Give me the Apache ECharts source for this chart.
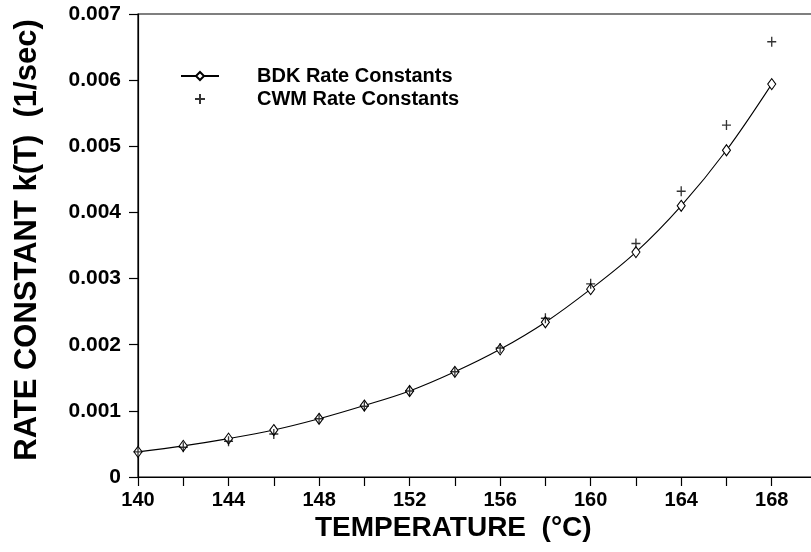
<!DOCTYPE html>
<html>
<head>
<meta charset="utf-8">
<script src="https://cdn.jsdelivr.net/npm/echarts@6/dist/echarts.min.js"></script>
<style>
html,body{margin:0;padding:0;background:#fff;}
#chart{width:811px;height:552px;}
</style>
</head>
<body>
<div id="chart"></div>
<script>
const temperatures = [140,142,144,146,148,150,152,154,156,158,160,162,164,166,168];
const bdkRates = [0.00038,0.00047,0.00058,0.00071,0.00088,0.00108,0.00130,0.00159,0.00193,0.00234,0.00284,0.00340,0.00410,0.00494,0.00594];
const cwmRates = [0.00038,0.00045,0.00054,0.00065,0.00088,0.00107,0.00130,0.00159,0.00195,0.00240,0.00292,0.00353,0.00432,0.00532,0.00658];
const seriesNames = ['BDK Rate Constants','CWM Rate Constants'];
const xTitle = 'TEMPERATURE  (\u00B0C)';
const yTitle = 'RATE CONSTANT k(T)  (1/sec)';

const font = '"Liberation Sans", Arial, Helvetica, sans-serif';
const chart = echarts.init(document.getElementById('chart'), null, {renderer:'canvas'});
const pairs = (xs, ys) => xs.map((x,i)=>[x, ys[i]]);

chart.setOption({
  animation:false,
  backgroundColor:'#fff',
  grid:{left:138, width:679, top:14, height:463, outerBoundsMode:'none', containLabel:false,
    show:true, borderColor:'#000', borderWidth:1.2, backgroundColor:'transparent'},
  legend:{
    orient:'vertical', left:175, top:61, itemGap:3, itemWidth:38, itemHeight:10,
    data:[{name:seriesNames[0]},{name:seriesNames[1]}],
    textStyle:{fontFamily:font, fontSize:20, fontWeight:'bold', color:'#000', padding:[0,0,0,33]},
    selectedMode:false
  },
  xAxis:{
    type:'value', min:140, max:170, interval:2,
    axisLine:{show:true, onZero:false, lineStyle:{color:'#000', width:1.2}},
    axisTick:{show:true, length:9, inside:false, lineStyle:{color:'#000', width:1.2}},
    axisLabel:{margin:13, fontFamily:font, fontSize:20, fontWeight:'bold', color:'#000',
      formatter:v => (v % 4 === 0 && v < 170) ? String(v) : ''},
    splitLine:{show:false}
  },
  yAxis:{
    type:'value', min:0, max:0.007, interval:0.001,
    axisLine:{show:true, lineStyle:{color:'#000', width:1.2}},
    axisTick:{show:true, length:9, inside:false, lineStyle:{color:'#000', width:1.2}},
    axisLabel:{margin:17, fontFamily:font, fontSize:21, fontWeight:'bold', color:'#000',
      formatter:v => v === 0 ? '0' : v.toFixed(3)},
    splitLine:{show:false}
  },
  graphic:[
    {type:'text', left:315, top:514, style:{text:xTitle, font:'bold 28px '+font, fill:'#000'}},
    {type:'text', x:27, y:240, rotation:Math.PI/2,
      style:{text:yTitle, font:'bold 31px '+font, fill:'#000', align:'center', verticalAlign:'middle'}}
  ],
  series:[
    {
      name:seriesNames[0], type:'line', data:pairs(temperatures, bdkRates),
      smooth:0.35, symbol:'diamond', symbolSize:[8,11], showSymbol:true,
      lineStyle:{color:'#000', width:1.1},
      itemStyle:{color:'#fff', borderColor:'#000', borderWidth:1.1},
      z:3
    },
    {
      name:seriesNames[1], type:'scatter', data:pairs(temperatures, cwmRates),
      symbol:'path://M5,0L5,10M0,5L10,5', symbolSize:[9,10],
      itemStyle:{color:'none', borderColor:'#000', borderWidth:1.4},
      z:4
    }
  ]
});
</script>
</body>
</html>
